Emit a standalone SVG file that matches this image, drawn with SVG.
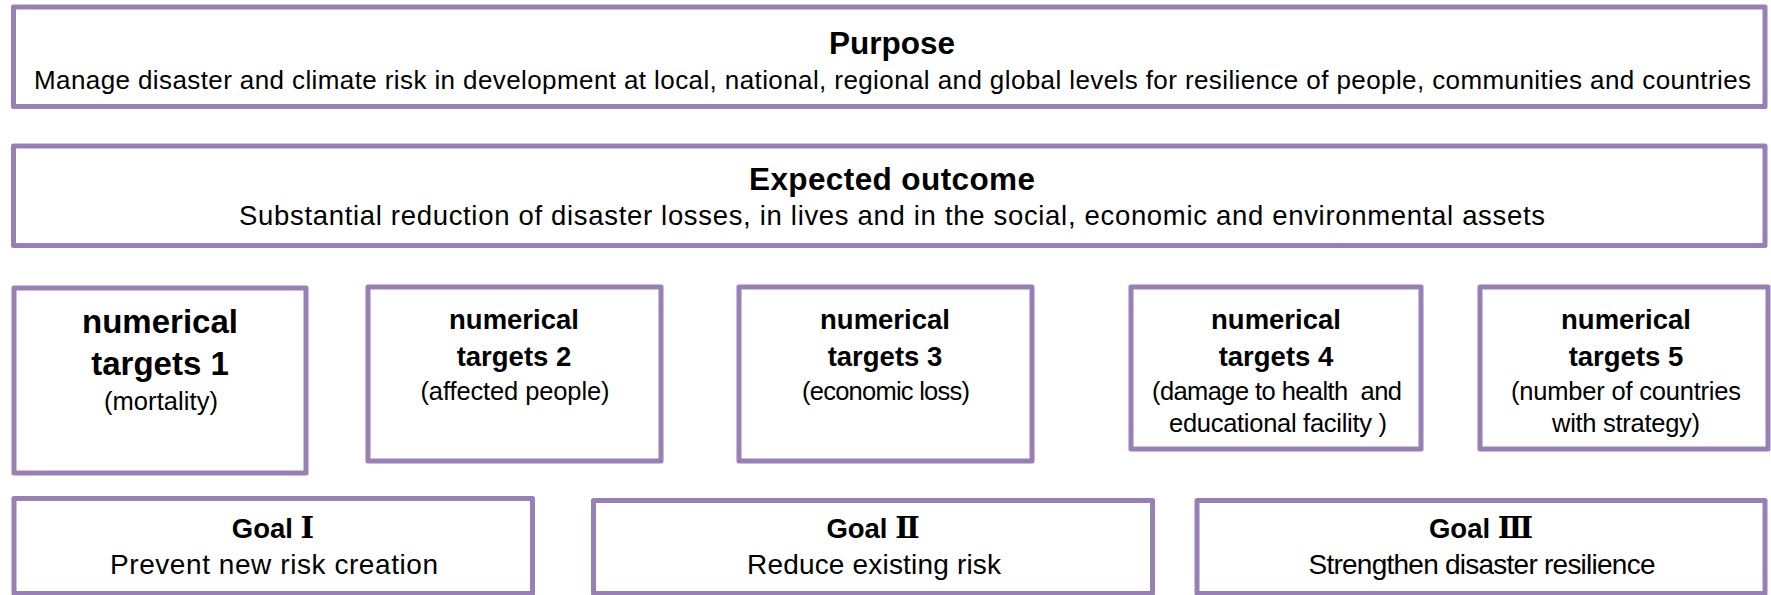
<svg xmlns="http://www.w3.org/2000/svg" width="1771" height="595" viewBox="0 0 1771 595">
<style>
.box{fill:#ffffff;stroke:#9880B4;stroke-width:5;stroke-linejoin:round}
text{font-family:"Liberation Sans",Arial,sans-serif;fill:#000;text-anchor:middle}
.h{font-weight:bold;font-size:31.5px}
.s{font-size:26px}
.s2{font-size:27.5px}
.tb1{font-weight:bold;font-size:33px}
.tb{font-weight:bold;font-size:27.5px}
.ts{font-size:25.5px}
.gb{font-weight:bold;font-size:27.5px}
.gs{font-size:28px}
.rn{font-family:"DejaVu Serif","Noto Sans CJK JP",serif;font-weight:bold;font-size:29px}
</style>
<rect width="1771" height="595" fill="#ffffff"/>
<g id="purpose">
<rect class="box" x="13.5" y="7" width="1751.5" height="99.5"/>
<text class="h" x="892" y="54">Purpose</text>
<text class="s" x="892.5" y="89" textLength="1717" lengthAdjust="spacing">Manage disaster and climate risk in development at local, national, regional and global levels for resilience of people, communities and countries</text>
</g>
<g id="outcome">
<rect class="box" x="13.5" y="146" width="1751.5" height="99.5"/>
<text class="h" x="892" y="190" textLength="286" lengthAdjust="spacing">Expected outcome</text>
<text class="s2" x="892" y="225" textLength="1306" lengthAdjust="spacing">Substantial reduction of disaster losses, in lives and in the social, economic and environmental assets</text>
</g>
<g id="target1">
<rect class="box" x="14" y="288" width="292" height="185"/>
<text class="tb1" x="160" y="333">numerical</text>
<text class="tb1" x="160" y="375">targets 1</text>
<text class="ts" x="161" y="410" textLength="114" lengthAdjust="spacing">(mortality)</text>
</g>
<g id="target2">
<rect class="box" x="368" y="287" width="293" height="174"/>
<text class="tb" x="514" y="329">numerical</text>
<text class="tb" x="514" y="366">targets 2</text>
<text class="ts" x="515" y="400" textLength="189" lengthAdjust="spacing">(affected people)</text>
</g>
<g id="target3">
<rect class="box" x="739" y="287" width="293" height="174"/>
<text class="tb" x="885" y="329">numerical</text>
<text class="tb" x="885" y="366">targets 3</text>
<text class="ts" x="886" y="400" textLength="168" lengthAdjust="spacing">(economic loss)</text>
</g>
<g id="target4">
<rect class="box" x="1131" y="287" width="290" height="162"/>
<text class="tb" x="1276" y="329">numerical</text>
<text class="tb" x="1276" y="366">targets 4</text>
<text class="ts" x="1277" y="400" textLength="250" lengthAdjust="spacing" xml:space="preserve">(damage to health  and</text>
<text class="ts" x="1278" y="432" textLength="218" lengthAdjust="spacing">educational facility )</text>
</g>
<g id="target5">
<rect class="box" x="1480" y="287" width="288" height="162"/>
<text class="tb" x="1626" y="329">numerical</text>
<text class="tb" x="1626" y="366">targets 5</text>
<text class="ts" x="1626" y="400" textLength="230" lengthAdjust="spacing">(number of countries</text>
<text class="ts" x="1626" y="432" textLength="148" lengthAdjust="spacing">with strategy)</text>
</g>
<g id="goal1">
<rect class="box" x="14" y="498.5" width="518.5" height="95"/>
<text class="gb" x="273" y="538">Goal <tspan class="rn">Ⅰ</tspan></text>
<text class="gs" x="274" y="574" textLength="328" lengthAdjust="spacing">Prevent new risk creation</text>
</g>
<g id="goal2">
<rect class="box" x="593.5" y="500.5" width="559" height="93"/>
<text class="gb" x="873" y="538">Goal <tspan class="rn">Ⅱ</tspan></text>
<text class="gs" x="874" y="574" textLength="254" lengthAdjust="spacing">Reduce existing risk</text>
</g>
<g id="goal3">
<rect class="box" x="1197" y="500.5" width="568" height="93"/>
<text class="gb" x="1481" y="538">Goal <tspan class="rn">Ⅲ</tspan></text>
<text class="gs" x="1482" y="574" textLength="347" lengthAdjust="spacing">Strengthen disaster resilience</text>
</g>
<g id="connectors"/>
</svg>
